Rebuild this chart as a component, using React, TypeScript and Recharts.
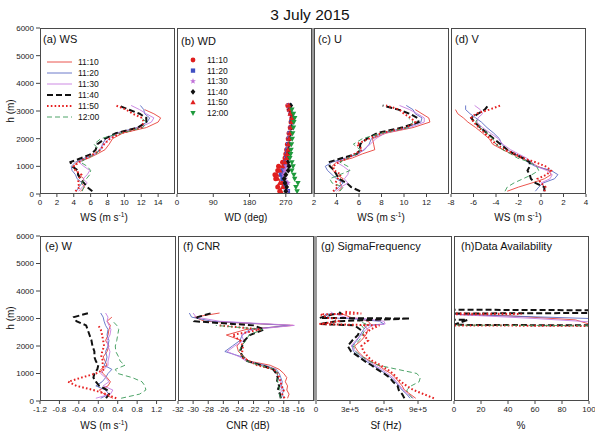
import React from 'react';
import { ScatterChart, Scatter, XAxis, YAxis, ZAxis } from 'recharts';

const FONT = '"Liberation Sans", Arial, Helvetica, sans-serif';

// ---------- data ----------
const times = ['11:10', '11:20', '11:30', '11:40', '11:50', '12:00'];
const heights = [100, 250, 400, 550, 700, 850, 1000, 1150, 1300, 1450, 1600, 1800, 2000, 2200, 2400, 2600, 2750, 2900, 3050, 3200];
const hTicks = [0, 1000, 2000, 3000, 4000, 5000, 6000];

// (a) WS, rows follow `times`
const wsProfiles: (number | null)[][] = [
  [4.8, 5.3, 4.9, 5.2, 4.6, 4.3, 4.0, 4.4, 5.8, 6.8, 7.7, 8.2, 8.6, 9.8, 12.6, 14.0, 14.3, 13.5, 12.4, null],
  [4.3, 4.6, 5.0, 4.4, 4.2, 3.8, 3.7, 4.2, 5.3, 6.5, 7.2, 7.4, 7.8, 9.0, 11.5, 12.7, 13.0, 12.4, 12.3, 11.9],
  [4.6, 5.0, 5.6, 5.1, 5.6, 5.9, 5.2, 4.6, 5.5, 6.6, 7.0, 7.6, 8.2, 9.3, 11.8, 13.2, 13.5, 12.6, 11.8, 10.8],
  [6.2, 5.6, 5.2, 4.8, 4.5, 4.5, 3.8, 3.6, 4.9, 6.1, 6.6, 6.8, 7.7, 9.0, 11.6, 12.6, 12.6, 11.8, 10.5, 9.3],
  [4.2, 4.7, 4.5, 4.6, 4.9, 4.2, 4.0, 4.6, 5.5, 6.4, 7.2, 7.6, 8.3, 9.6, 12.0, 12.3, 12.1, 11.0, 10.2, 9.0],
  [5.0, 5.2, 4.9, 5.5, 5.9, 6.0, 5.6, 4.8, 5.6, 6.7, 7.0, 6.4, 7.2, 9.6, 12.2, 12.6, 12.0, null, null, null],
];
const wsTicks = [0, 2, 4, 6, 8, 10, 12, 14];

// (b) WD
const wdProfiles: (number | null)[][] = [
  [255, 250, 262, 245, 243, 250, 252, 262, 268, 270, 272, 274, 276, 278, 281, 283, 285, 282, 278, 275],
  [275, 268, 270, 262, 258, 262, 266, 270, 272, 273, 274, 276, 278, 280, 283, 284, 286, 283, 280, 279],
  [272, 270, 275, 268, 265, 268, 270, 272, 273, 275, 277, 278, 279, 281, 284, 286, 285, 282, 280, 278],
  [270, 272, 268, 266, 270, 276, 278, 275, 274, 275, 277, 278, 280, 282, 284, 285, 286, 283, 280, 282],
  [258, 262, 255, 250, 248, 255, 262, 268, 272, 273, 275, 276, 278, 280, 282, 284, 285, 281, 279, 277],
  [298, 295, 300, 292, 290, 285, 288, 285, 280, 282, 283, 284, 286, 287, 289, 290, 292, 289, 285, null],
];
const wdTicks = [0, 90, 180, 270];

// (c) U
const uProfiles: (number | null)[][] = [
  [4.2, 4.5, 4.3, 4.6, 4.0, 3.7, 3.6, 4.0, 5.4, 6.3, 7.4, 7.3, 7.2, 8.4, 10.8, 12.3, 12.2, 11.6, 11.0, null],
  [3.8, 4.2, 4.6, 4.0, 3.6, 3.2, 3.0, 3.6, 4.8, 5.8, 6.5, 6.9, 7.1, 8.0, 10.2, 11.5, 11.6, 11.0, 10.8, 10.2],
  [4.0, 4.4, 5.0, 4.7, 5.0, 5.1, 4.6, 4.0, 5.0, 6.0, 6.4, 7.0, 7.5, 8.3, 10.5, 11.8, 11.8, 11.2, 10.5, 9.6],
  [6.1, 5.3, 4.9, 4.2, 4.0, 3.8, 3.4, 3.3, 4.5, 5.8, 6.1, 6.1, 6.7, 7.6, 9.8, 11.3, 11.2, 10.5, 9.5, 8.1],
  [3.7, 4.1, 3.9, 4.1, 4.4, 3.8, 3.7, 4.2, 5.0, 5.6, 6.3, 5.8, 6.9, 8.0, 10.2, 11.0, 10.6, 10.0, 9.6, 8.4],
  [4.3, 4.6, 3.6, 3.4, 4.3, 5.2, 5.0, 4.3, 5.0, 5.8, 6.1, 5.5, 6.3, 8.0, 10.4, 10.8, 10.4, null, null, null],
];
const uTicks = [2, 4, 6, 8, 10, 12];

// (d) V
const vProfiles: (number | null)[][] = [
  [-3.0, -2.0, -0.8, 0.3, 0.9, 0.7, -0.3, -1.0, -1.8, -2.6, -3.4, -4.3, -4.6, -5.2, -5.8, -6.5, -6.9, -7.4, -7.6, null],
  [-0.5, -0.2, 0.2, 1.2, 1.5, 0.9, -0.5, -1.2, -1.5, -2.3, -3.0, -3.5, -3.7, -4.2, -4.8, -5.3, -5.8, -6.3, -6.7, -6.7],
  [0.2, 0.3, 0.0, 0.8, 1.0, 0.5, -0.4, -0.8, -1.3, -2.0, -2.7, -3.4, -3.8, -4.5, -5.2, -5.7, -5.6, -5.2, -5.4, -5.9],
  [0.3, 0.3, -0.5, -0.9, -1.0, -1.2, -1.0, -1.0, -1.6, -2.4, -3.0, -3.6, -4.2, -4.8, -5.4, -5.9, -6.2, -5.6, -5.0, -4.7],
  [0.3, 0.4, 0.0, -0.3, 0.5, 0.9, 0.4, -0.5, -1.6, -2.3, -3.2, -4.0, -4.5, -5.0, -5.5, -6.0, -6.2, -5.8, -4.6, -3.6],
  [-3.2, -3.0, -2.4, -1.6, -0.8, -0.2, -0.4, -1.0, -2.1, -2.7, -3.4, -4.0, -4.3, -4.8, -5.4, -5.8, -5.6, null, null, null],
];
const vTicks = [-8, -6, -4, -2, 0, 2, 4];

// (e) W
const wProfiles: (number | null)[][] = [
  [0.30, 0.12, 0.02, 0.20, 0.25, 0.18, 0.10, 0.05, 0.18, 0.14, 0.10, 0.18, 0.22, 0.15, 0.20, 0.22, 0.25, 0.18, 0.28, null],
  [0.05, 0.22, 0.15, -0.05, 0.08, 0.15, 0.20, 0.28, 0.12, 0.16, 0.18, 0.15, 0.20, 0.22, 0.18, 0.20, 0.15, 0.12, 0.10, 0.05],
  [-0.05, 0.25, 0.30, 0.10, 0.22, 0.15, 0.05, 0.12, 0.20, 0.20, 0.22, 0.24, 0.20, 0.18, 0.24, 0.26, 0.22, 0.18, 0.20, 0.15],
  [0.16, 0.22, 0.18, 0.02, -0.05, -0.10, -0.08, -0.02, 0.00, -0.05, -0.08, -0.08, -0.12, -0.14, -0.18, -0.22, -0.25, -0.45, -0.50, -0.20],
  [0.37, 0.16, -0.10, -0.45, -0.62, -0.35, -0.05, 0.12, 0.08, 0.10, 0.06, 0.08, 0.12, 0.10, 0.08, 0.05, 0.00, null, null, null],
  [0.47, 0.85, 0.98, 0.96, 0.90, 0.70, 0.40, 0.35, 0.55, 0.45, 0.42, 0.36, 0.35, 0.38, 0.40, 0.42, 0.38, 0.30, null, null],
];
const wTicks = [-1.2, -0.8, -0.4, 0, 0.4, 0.8, 1.2];

// (f) CNR
const cnrProfiles: (number | null)[][] = [
  [-17.5, -17.3, -17.6, -17.5, -17.8, -17.6, -18.0, -18.6, -19.8, -22.6, -23.2, -24.0, -24.2, -23.6, -25.6, -23.0, -16.8, -28.5, -29.8, -26.5],
  [-18.0, -18.2, -18.0, -18.3, -18.2, -18.4, -18.6, -19.0, -20.5, -22.8, -23.5, -25.8, -24.8, -23.8, -23.5, -22.5, -17.2, -27.5, -30.2, -30.5],
  [-18.3, -18.6, -18.2, -18.5, -18.4, -18.8, -18.9, -19.2, -20.8, -23.0, -23.8, -25.5, -24.5, -23.3, -23.6, -22.0, -16.6, -26.5, -29.6, -30.0],
  [-18.4, -18.5, -18.8, -18.6, -18.9, -18.8, -19.0, -19.4, -21.0, -22.8, -23.4, -23.8, -23.5, -23.2, -22.5, -20.6, -22.0, -29.8, -29.4, -27.5],
  [-17.9, -18.2, -18.0, -18.3, -18.4, -18.6, -18.8, -19.3, -21.5, -22.6, -23.6, -23.5, -23.4, -23.8, -24.8, -21.0, -26.5, null, null, null],
  [-18.4, -18.6, -18.5, -18.7, -18.8, -18.9, -18.8, -19.2, -21.2, -22.9, -23.3, -23.9, -23.6, -23.0, -22.6, -20.8, -27.0, null, null, null],
];
const cnrTicks = [-32, -30, -28, -26, -24, -22, -20, -18, -16];

// (g) SigmaFrequency (Hz)
const sfHeights = [100, 250, 400, 550, 700, 850, 1000, 1150, 1300, 1450, 1600, 1800, 2000, 2200, 2400, 2600, 2750, 2800, 2900, 3000, 3020, 3150, 3180, 3250];
const sfProfiles: (number | null)[][] = [
  [8.8e5, 8.3e5, 7.8e5, 7.6e5, 7.3e5, 7.0e5, 6.6e5, 6.0e5, 5.5e5, 4.8e5, 4.2e5, 3.7e5, 3.4e5, 4.0e5, 4.4e5, 4.6e5, 4.2e5, 4.8e5, 4.6e5, 3.8e5, 3.2e5, 2.4e5, 2.0e5, null],
  [8.3e5, 8.0e5, 7.6e5, 7.3e5, 7.0e5, 6.6e5, 6.1e5, 5.6e5, 5.0e5, 4.4e5, 3.9e5, 3.3e5, 3.2e5, 3.6e5, 3.9e5, 4.2e5, 4.5e5, 6.0e5, 5.6e5, 3.0e5, 1.2e5, 0.8e5, 1.5e5, null],
  [8.6e5, 8.1e5, 7.7e5, 7.4e5, 7.1e5, 6.8e5, 6.3e5, 5.8e5, 5.2e5, 4.6e5, 4.1e5, 3.5e5, 3.1e5, 3.5e5, 4.0e5, 4.4e5, 5.0e5, 6.1e5, 6.0e5, 4.2e5, 2.8e5, 1.8e5, 1.5e5, 1.3e5],
  [7.8e5, 7.6e5, 7.3e5, 7.2e5, 6.8e5, 6.5e5, 6.0e5, 5.4e5, 4.9e5, 4.3e5, 3.8e5, 3.1e5, 2.8e5, 3.2e5, 3.7e5, 3.9e5, 3.4e5, 0.3e5, 1.8e5, 8.3e5, 0.3e5, 1.5e5, 2.2e5, 2.0e5],
  [10.4e5, 9.5e5, 8.6e5, 8.0e5, 7.5e5, 7.1e5, 6.8e5, 6.3e5, 5.7e5, 5.0e5, 4.6e5, 4.2e5, 4.0e5, 4.6e5, 4.2e5, 4.8e5, 5.6e5, 0.3e5, 2.0e5, 1.8e5, 1.0e5, 0.4e5, 4.0e5, 2.5e5],
  [8.5e5, 8.2e5, 8.0e5, 8.4e5, 9.1e5, 9.2e5, 8.9e5, 7.2e5, 5.5e5, 4.7e5, 4.1e5, 3.5e5, 3.3e5, 3.8e5, 4.1e5, 4.3e5, 4.0e5, 4.4e5, 3.8e5, null, null, null, null, null],
];
const sfTicks = [0, 3e5, 6e5, 9e5];

// (h) Data availability (%), each time has its own heights
const availHeights: number[][] = [
  [100, 2800, 2950, 3100, 3150, 6000],
  [100, 2850, 3000, 3100, 3150, 6000],
  [100, 2880, 3000, 3100, 3150, 6000],
  [100, 2750, 2770, 2950, 2960, 3180, 3200, 3300, 3320, 6000],
  [100, 2730, 2750, 3150, 3165, 3180, 6000],
  [100, 2740, 2760, 6000],
];
const availProfiles: number[][] = [
  [100, 100, 90, 40, 0, 0],
  [100, 100, 100, 35, 0, 0],
  [100, 100, 60, 20, 0, 0],
  [100, 100, 0, 10, 0, 0, 100, 100, 0, 0],
  [100, 100, 0, 0, 50, 0, 0],
  [100, 100, 0, 0],
];
const availTicks = [0, 20, 40, 60, 80, 100];

// ---------- styles ----------
type LineStyle = { color: string; width: number; dash?: string };
const lineStyles: LineStyle[] = [
  { color: '#e8423a', width: 0.9 },
  { color: '#5b6cc4', width: 0.9 },
  { color: '#c77ee0', width: 0.9 },
  { color: '#111111', width: 2, dash: '6 3' },
  { color: '#e62020', width: 2, dash: '1.6 2.2' },
  { color: '#3a9a58', width: 0.9, dash: '5 3' },
];
const markerStyles = [
  { kind: 'circle', color: '#e01e1e' },
  { kind: 'square', color: '#3f4fc2' },
  { kind: 'star', color: '#c070d8' },
  { kind: 'diamond', color: '#111111' },
  { kind: 'tri', color: '#e02020' },
  { kind: 'tridown', color: '#1e9a3c' },
];

type Pt = { x: number; y: number };
const toPts = (vals: (number | null)[], hs: number[]): Pt[] =>
  hs.map((h, i) => ({ x: vals[i] as number, y: h })).filter((p) => p.x !== null && p.x !== undefined);

const Empty = () => <g />;

function markerPath(kind: string, cx: number, cy: number, r: number, color: string, key?: any) {
  switch (kind) {
    case 'circle':
      return <circle key={key} cx={cx} cy={cy} r={r} fill={color} />;
    case 'square':
      return <rect key={key} x={cx - r * 0.9} y={cy - r * 0.9} width={r * 1.8} height={r * 1.8} fill={color} />;
    case 'diamond':
      return <polygon key={key} points={`${cx},${cy - r * 1.2} ${cx + r},${cy} ${cx},${cy + r * 1.2} ${cx - r},${cy}`} fill={color} />;
    case 'tri':
      return <polygon key={key} points={`${cx},${cy - r * 1.2} ${cx + r * 1.1},${cy + r * 0.8} ${cx - r * 1.1},${cy + r * 0.8}`} fill={color} />;
    case 'tridown':
      return <polygon key={key} points={`${cx},${cy + r * 1.2} ${cx + r * 1.1},${cy - r * 0.8} ${cx - r * 1.1},${cy - r * 0.8}`} fill={color} />;
    case 'star': {
      const pts: string[] = [];
      for (let k = 0; k < 10; k++) {
        const rr = k % 2 === 0 ? r * 1.3 : r * 0.55;
        const a = -Math.PI / 2 + (k * Math.PI) / 5;
        pts.push(`${cx + rr * Math.cos(a)},${cy + rr * Math.sin(a)}`);
      }
      return <polygon key={key} points={pts.join(' ')} fill={color} />;
    }
  }
  return <g key={key} />;
}

const makeShape = (kind: string, color: string) => (props: any) => {
  const { cx, cy } = props;
  if (cx == null || cy == null) return <g />;
  return markerPath(kind, cx, cy, 2.5, color);
};

type PanelProps = {
  L: number; T: number; W: number; H: number;
  domain: [number, number]; ticks: number[];
  fmt?: (v: number) => string;
  yLabels: boolean;
  lines?: { pts: Pt[]; st: LineStyle }[];
  marks?: { pts: Pt[]; kind: string; color: string }[];
};

const MT = 4, MR = 12, ML = 12, XH = 18;

function Panel(p: PanelProps) {
  const yw = p.yLabels ? 40 : 0;
  const ml = p.yLabels ? 0 : ML;
  return (
    <div style={{ position: 'absolute', left: p.L - yw - ml, top: p.T - MT }}>
      <ScatterChart width={ml + yw + p.W + MR} height={MT + p.H + XH} margin={{ top: MT, right: MR, bottom: 0, left: ml }}>
        <XAxis type="number" dataKey="x" domain={p.domain} ticks={p.ticks} interval={0} tickFormatter={p.fmt}
          height={XH} axisLine={false} tickSize={3} stroke="#444" allowDataOverflow
          tick={{ fontSize: 8, fill: '#222', fontFamily: FONT }} />
        <YAxis yAxisId="l" type="number" dataKey="y" domain={[0, 6000]} ticks={hTicks} interval={0} width={yw}
          axisLine={false} mirror={!p.yLabels} tickSize={p.yLabels ? 4 : 3} stroke="#444" allowDataOverflow
          tick={p.yLabels ? { fontSize: 8, fill: '#222', fontFamily: FONT } : false} />
        <YAxis yAxisId="r" orientation="right" type="number" dataKey="y" domain={[0, 6000]} ticks={hTicks} interval={0}
          width={0} mirror axisLine={false} tick={false} tickSize={3} stroke="#444" allowDataOverflow />
        <ZAxis range={[22, 22]} />
        {(p.lines || []).map((s, i) => (
          <Scatter key={'l' + i} yAxisId="l" data={s.pts} fill={s.st.color} shape={Empty} isAnimationActive={false}
            line={{ stroke: s.st.color, strokeWidth: s.st.width, strokeDasharray: s.st.dash }} />
        ))}
        {(p.marks || []).map((s, i) => (
          <Scatter key={'m' + i} yAxisId="l" data={s.pts} fill={s.color} shape={makeShape(s.kind, s.color)} isAnimationActive={false} />
        ))}
      </ScatterChart>
      <div style={{ position: 'absolute', left: ml + yw, top: MT, width: p.W, height: p.H, border: '1px solid #4a4a4a', boxSizing: 'border-box', pointerEvents: 'none' }} />
    </div>
  );
}

const txt = (s: string, x: number, y: number, size: number, extra: any = {}) => (
  <div style={{ position: 'absolute', left: x, top: y, transform: 'translate(-50%, -50%)', fontFamily: FONT, fontSize: size, lineHeight: 1, whiteSpace: 'nowrap', color: '#111', ...extra }}>{s}</div>
);
const ltxt = (content: any, x: number, y: number, size: number) => (
  <div style={{ position: 'absolute', left: x, top: y, transform: 'translateY(-50%)', fontFamily: FONT, fontSize: size, lineHeight: 1, whiteSpace: 'nowrap', color: '#111' }}>{content}</div>
);
const wsTitle = (x: number, y: number) => (
  <div style={{ position: 'absolute', left: x, top: y, transform: 'translate(-50%, -50%)', fontFamily: FONT, fontSize: 10, lineHeight: 1, whiteSpace: 'nowrap', color: '#111' }}>
    WS (m s<sup style={{ fontSize: 6.5, verticalAlign: 'super', lineHeight: 0 }}>-1</sup>)
  </div>
);

const mkLines = (profiles: (number | null)[][], hs: number[]) => profiles.map((vals, i) => ({ pts: toPts(vals, hs), st: lineStyles[i] }));

export default function App() {
  const TOP = 28, TH = 166, BOT = 236, BH = 165;
  const wdMarks = wdProfiles.map((vals, i) => ({ pts: toPts(vals, heights), kind: markerStyles[i].kind, color: markerStyles[i].color }));
  const availLines = availProfiles.map((vals, i) => ({ pts: toPts(vals, availHeights[i]), st: lineStyles[i] }));
  const legendY = [62, 73, 84, 95, 106, 117];
  const legendBY = [60, 70.6, 81.2, 91.8, 102.4, 113];
  return (
    <div style={{ position: 'absolute', left: 0, top: 0, width: 595, height: 433, background: '#fff', overflow: 'hidden' }}>
      {txt('3 July 2015', 310, 15, 15.5)}

      <Panel L={40} T={TOP} W={135} H={TH} domain={[0, 16]} ticks={wsTicks} yLabels lines={mkLines(wsProfiles, heights)} />
      <Panel L={177} T={TOP} W={135} H={TH} domain={[0, 335]} ticks={wdTicks} yLabels={false} marks={wdMarks} />
      <Panel L={314} T={TOP} W={135} H={TH} domain={[2, 14]} ticks={uTicks} yLabels={false} lines={mkLines(uProfiles, heights)} />
      <Panel L={451} T={TOP} W={135} H={TH} domain={[-8, 4]} ticks={vTicks} yLabels={false} lines={mkLines(vProfiles, heights)} />

      <Panel L={40} T={BOT} W={136} H={BH} domain={[-1.2, 1.6]} ticks={wTicks} fmt={(v) => v.toFixed(1)} yLabels lines={mkLines(wProfiles, heights)} />
      <Panel L={178} T={BOT} W={136} H={BH} domain={[-32, -14]} ticks={cnrTicks} yLabels={false} lines={mkLines(cnrProfiles, heights)} />
      <Panel L={316} T={BOT} W={136} H={BH} domain={[0, 1.2e6]} ticks={sfTicks} fmt={(v) => (v === 0 ? '0' : `${Math.round(v / 1e5)}e+5`)} yLabels={false} lines={mkLines(sfProfiles, sfHeights)} />
      <Panel L={454} T={BOT} W={135} H={BH} domain={[0, 100]} ticks={availTicks} yLabels={false} lines={availLines} />

      {/* thick gray panel joins */}
      <div style={{ position: 'absolute', left: 312, top: TOP, width: 2, height: TH, background: '#9a9a9a' }} />
      <div style={{ position: 'absolute', left: 314, top: BOT, width: 3, height: BH, background: '#9a9a9a' }} />

      {/* panel labels */}
      {ltxt('(a) WS', 43, 39, 11)}
      {ltxt('(b) WD', 181, 41, 11)}
      {ltxt('(c) U', 318, 39, 11)}
      {ltxt('(d) V', 455, 39, 11)}
      {ltxt('(e) W', 45, 246, 11)}
      {ltxt('(f) CNR', 183, 246, 11)}
      {ltxt('(g) SigmaFrequency', 321, 246, 11)}
      {ltxt('(h)Data Availability', 461, 246, 11)}

      {/* legends */}
      <svg style={{ position: 'absolute', left: 0, top: 0 }} width={595} height={433}>
        {lineStyles.map((s, i) => (
          <line key={i} x1={47} x2={72} y1={legendY[i]} y2={legendY[i]} stroke={s.color} strokeWidth={s.width} strokeDasharray={s.dash} />
        ))}
        {markerStyles.map((m, i) => markerPath(m.kind, 193, legendBY[i], 2.4, m.color, 'lg' + i))}
      </svg>
      {times.map((t, i) => <React.Fragment key={'ta' + i}>{ltxt(t, 78, legendY[i], 8.5)}</React.Fragment>)}
      {times.map((t, i) => <React.Fragment key={'tb' + i}>{ltxt(t, 207, legendBY[i], 8.5)}</React.Fragment>)}

      {/* axis titles */}
      {txt('h (m)', 11, 111, 10, { transform: 'translate(-50%, -50%) rotate(-90deg)' })}
      {txt('h (m)', 11, 318, 10, { transform: 'translate(-50%, -50%) rotate(-90deg)' })}
      {wsTitle(104, 218)}
      {txt('WD (deg)', 246, 218, 10)}
      {wsTitle(381, 218)}
      {wsTitle(518, 218)}
      {wsTitle(104, 426)}
      {txt('CNR (dB)', 248, 426, 10)}
      {txt('Sf (Hz)', 386, 426, 10)}
      {txt('%', 521, 426, 10)}
    </div>
  );
}
